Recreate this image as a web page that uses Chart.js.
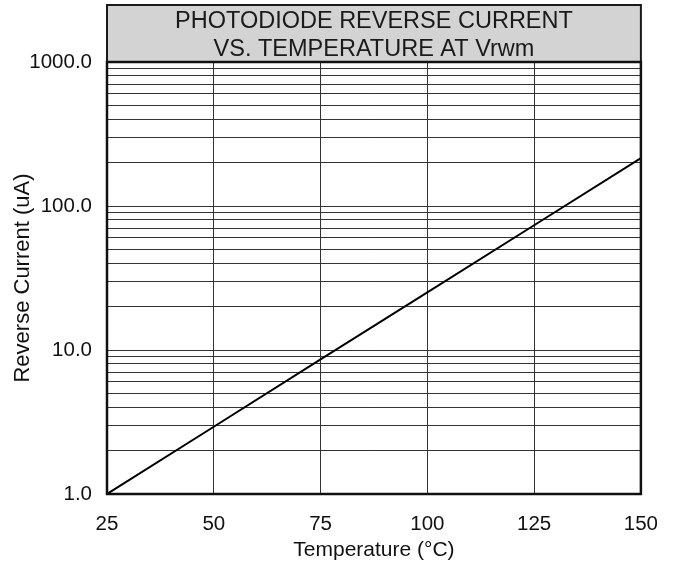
<!DOCTYPE html>
<html>
<head>
<meta charset="utf-8">
<script src="https://cdn.jsdelivr.net/npm/chart.js@4/dist/chart.umd.min.js"></script>
<style>
html,body{margin:0;padding:0;background:#fff;}
#wrap{width:676px;height:569px;}
</style>
</head>
<body>
<div id="wrap"><canvas id="c" width="676" height="569"></canvas></div>
<script>
const temperatures = [25, 50, 75, 100, 125, 150];
const reverseCurrent = [1.0, 2.93, 8.6, 25.1, 73.5, 215];
const yMajorTicks = [1, 10, 100, 1000];
const titleLines = ['PHOTODIODE REVERSE CURRENT', 'VS. TEMPERATURE AT Vrwm'];
const xTitle = 'Temperature (°C)';
const yTitle = 'Reverse Current (uA)';

const FONT = "'Liberation Sans', Arial, sans-serif";

const frame = {
  id: 'frame',
  beforeDraw(chart) {
    const {ctx, chartArea: a} = chart;
    ctx.save();
    const top = 5;
    ctx.fillStyle = '#d3d3d3';
    ctx.fillRect(a.left, top, a.right - a.left, a.top - top);
    ctx.restore();
  },
  afterDraw(chart) {
    const {ctx, chartArea: a} = chart;
    ctx.save();
    const top = 5;
    ctx.strokeStyle = '#1a1a1a';
    ctx.lineWidth = 2;
    ctx.strokeRect(a.left, top, a.right - a.left, a.top - top);
    ctx.lineWidth = 2.5;
    ctx.strokeStyle = '#111';
    ctx.strokeRect(a.left, a.top, a.right - a.left, a.bottom - a.top);
    ctx.fillStyle = '#1a1a1a';
    ctx.font = '23.5px ' + FONT;
    ctx.textAlign = 'center';
    ctx.textBaseline = 'alphabetic';
    const cx = (a.left + a.right) / 2;
    ctx.fillText(titleLines[0], cx, 27.5);
    ctx.fillText(titleLines[1], cx, 55.5);
    ctx.restore();
  }
};

new Chart(document.getElementById('c'), {
  type: 'line',
  data: {
    datasets: [{
      data: temperatures.map((t, i) => ({x: t, y: reverseCurrent[i]})),
      borderColor: '#000',
      borderWidth: 2,
      pointRadius: 0,
      tension: 0,
      fill: false
    }]
  },
  options: {
    responsive: false,
    animation: false,
    devicePixelRatio: 1,
    layout: {padding: {top: 62, right: 34, left: 10, bottom: 0}},
    plugins: {legend: {display: false}, tooltip: {enabled: false}, title: {display: false}},
    scales: {
      x: {
        type: 'linear',
        min: 25, max: 150,
        afterFit(s) { s.height = 75; },
        ticks: {stepSize: 25, color: '#111', font: {family: FONT, size: 20.5}, padding: 18, maxRotation: 0},
        grid: {color: '#333', lineWidth: 1, drawTicks: false},
        border: {display: false},
        title: {display: true, text: xTitle, color: '#111', font: {family: FONT, size: 21}, padding: {top: 0, bottom: 6}}
      },
      y: {
        type: 'logarithmic',
        min: 1, max: 1000,
        afterFit(s) { s.width = 97; },
        afterBuildTicks(s) {
          const t = [];
          for (let d = 1; d < 1000; d *= 10) {
            for (let m = 1; m <= 9; m++) t.push({value: m * d});
          }
          t.push({value: 1000});
          s.ticks = t;
        },
        ticks: {
          autoSkip: false,
          color: '#111',
          font: {family: FONT, size: 20.5},
          padding: 15,
          callback(v) { return yMajorTicks.includes(v) ? v.toFixed(1) : ''; }
        },
        grid: {color: '#333', lineWidth: 1, drawTicks: false},
        border: {display: false},
        title: {display: true, text: yTitle, color: '#111', font: {family: FONT, size: 22}, padding: {top: 0, bottom: 0}}
      }
    }
  },
  plugins: [frame]
});
</script>
</body>
</html>
